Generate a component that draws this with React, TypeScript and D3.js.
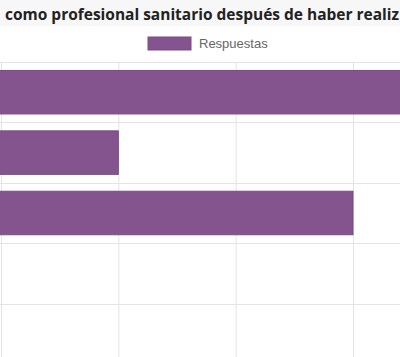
import React from "react";
import * as d3 from "d3";

const categories = ["A", "B", "C", "D", "E"];
const values = [5, 2, 4, 0, 0];
const xTicks = [0, 1, 2, 3, 4, 5, 6];
const seriesName = "Respuestas";
const titleVisible = "como profesional sanitario después de haber realiz";

export default function App() {
  const W = 400, H = 357;
  const x = d3.scaleLinear().domain([0, 1]).range([-116.33, 1]);
  const y = d3.scaleBand().domain(categories).range([62, 62 + 60.4 * categories.length]).paddingInner(0).paddingOuter(0);
  const bw = y.bandwidth() * 0.72;
  const color = "#84548f";
  return (
    <div>
      <style>{`html,body{margin:0;padding:0;}`}</style>
      <svg width={W} height={H} style={{ display: "block", background: "#fff" }}>
        <rect x={0} y={0} width={W} height={26} fill="#f7f7f7" />
        <text x={5} y={20} fontFamily="'Open Sans', sans-serif" fontWeight="bold" fontSize={15.5} fill="#222"
          textLength={394} lengthAdjust="spacingAndGlyphs">
          {titleVisible}
        </text>
        <rect x={148} y={37} width={43} height={13} fill={color} stroke="#7a4a85" strokeWidth={1} />
        <text x={199} y={48} fontFamily="'Liberation Sans', Arial, sans-serif" fontSize={13} fill="#666">
          {seriesName}
        </text>
        {xTicks.map((t) => (
          <line key={"v" + t} x1={x(t) + 0.5} x2={x(t) + 0.5} y1={62} y2={H} stroke="#e4e4e4" strokeWidth={1} />
        ))}
        {categories.map((c) => (
          <line key={"h" + c} x1={0} x2={W} y1={Math.round(y(c)!) + 0.5} y2={Math.round(y(c)!) + 0.5} stroke="#e4e4e4" strokeWidth={1} />
        ))}
        {categories.map((c, i) => (
          values[i] > 0 ? (
            <rect
              key={"b" + c}
              x={x(0)}
              y={y(c)! + (y.bandwidth() - bw) / 2}
              width={x(values[i]) - x(0)}
              height={bw}
              fill={color}
              stroke="#7a4a85"
              strokeWidth={1}
            />
          ) : null
        ))}
      </svg>
    </div>
  );
}
